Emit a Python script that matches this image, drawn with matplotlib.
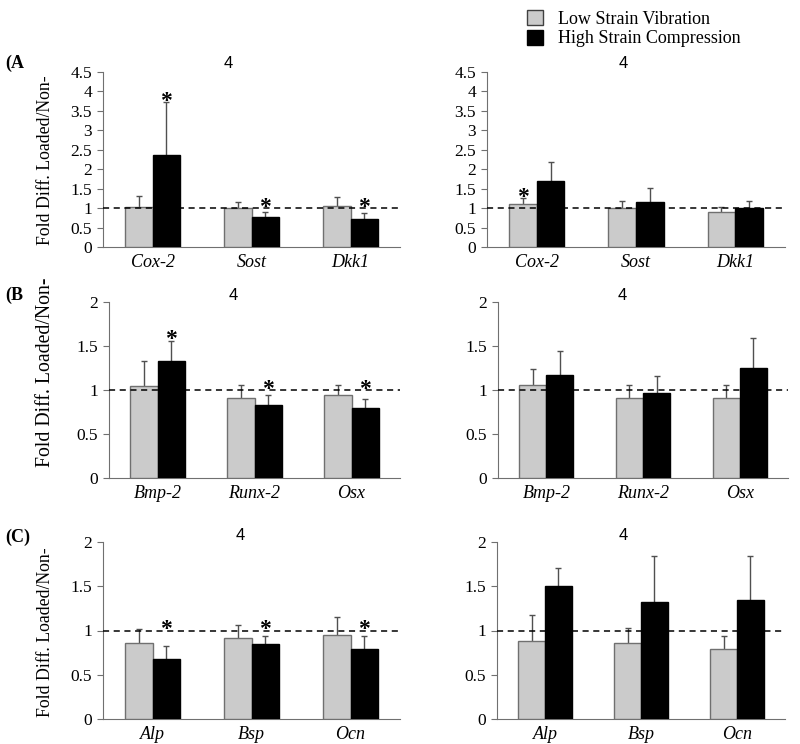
import numpy as np
import matplotlib
matplotlib.use("Agg")
import matplotlib.pyplot as plt
from matplotlib.patches import Patch

plt.rcParams['font.family'] = ['Liberation Serif', 'DejaVu Serif']

# genes per row
genes_a = ["Cox-2", "Sost", "Dkk1"]
genes_b = ["Bmp-2", "Runx-2", "Osx"]
genes_c = ["Alp", "Bsp", "Ocn"]

# Row A - left / right
low_a1 = [1.03, 1.01, 1.06]
low_a1_err = [0.27, 0.16, 0.22]
high_a1 = [2.37, 0.78, 0.72]
high_a1_err = [1.35, 0.12, 0.15]
low_a2 = [1.11, 1.01, 0.91]
low_a2_err = [0.15, 0.17, 0.13]
high_a2 = [1.70, 1.16, 1.00]
high_a2_err = [0.48, 0.36, 0.18]

# Row B
low_b1 = [1.05, 0.91, 0.94]
low_b1_err = [0.28, 0.15, 0.12]
high_b1 = [1.33, 0.83, 0.79]
high_b1_err = [0.23, 0.11, 0.11]
low_b2 = [1.06, 0.91, 0.91]
low_b2_err = [0.18, 0.15, 0.15]
high_b2 = [1.17, 0.97, 1.25]
high_b2_err = [0.27, 0.19, 0.34]

# Row C
low_c1 = [0.86, 0.91, 0.95]
low_c1_err = [0.16, 0.15, 0.20]
high_c1 = [0.68, 0.85, 0.79]
high_c1_err = [0.14, 0.09, 0.15]
low_c2 = [0.88, 0.86, 0.79]
low_c2_err = [0.29, 0.17, 0.15]
high_c2 = [1.50, 1.32, 1.34]
high_c2_err = [0.21, 0.52, 0.50]

# significance stars (low, high)
star_low_a1 = [0, 0, 0]; star_high_a1 = [1, 1, 1]
star_low_a2 = [1, 0, 0]; star_high_a2 = [0, 0, 0]
star_low_b1 = [0, 0, 0]; star_high_b1 = [1, 1, 1]
star_low_b2 = [0, 0, 0]; star_high_b2 = [0, 0, 0]
star_low_c1 = [0, 0, 0]; star_high_c1 = [1, 1, 1]
star_low_c2 = [0, 0, 0]; star_high_c2 = [0, 0, 0]

yticks_a = [0, 0.5, 1, 1.5, 2, 2.5, 3, 3.5, 4, 4.5]
yticks_bc = [0, 0.5, 1, 1.5, 2]

W, H = 800, 744
fig = plt.figure(figsize=(8, 7.44), dpi=100)


def px_axes(x0, y0, x1, y1):
    return fig.add_axes([x0 / W, 1 - y1 / H, (x1 - x0) / W, (y1 - y0) / H])


def panel(ax, genes, low, low_err, high, high_err, s_low, s_high, yticks, title_x, title_y):
    x = np.arange(len(genes))
    w = 0.28
    ax.bar(x - w / 2, low, w, color="#cbcbcb", edgecolor="#707070", linewidth=1, zorder=3)
    ax.bar(x + w / 2, high, w, color="black", edgecolor="black", linewidth=1, zorder=3)
    for xs, m, e in [(x - w / 2, low, low_err), (x + w / 2, high, high_err)]:
        _, caps, _ = ax.errorbar(xs, m, yerr=[np.zeros(len(m)), e], fmt="none",
                                 ecolor="#505050", elinewidth=1, capsize=2.5, zorder=2)
        caps[0].set_visible(False)
    for xs, m, e, s in [(x - w / 2, low, low_err, s_low), (x + w / 2, high, high_err, s_high)]:
        for xi, mi, ei, si in zip(xs, m, e, s):
            if si:
                ax.annotate("*", (xi, max(mi + ei, 1.0)), xytext=(0, -7), textcoords="offset points",
                            ha="center", va="bottom", fontsize=17, fontweight="bold", zorder=5)
    ax.axhline(1, color="black", linestyle=(0, (4, 3)), linewidth=1.1, zorder=4)
    ax.set_xlim(-0.5, len(genes) - 0.5)
    ax.set_ylim(yticks[0], yticks[-1])
    ax.set_yticks(yticks)
    ax.set_yticklabels([("%g" % t) for t in yticks], fontsize=12.5)
    ax.set_xticks(x)
    ax.set_xticklabels(genes, fontsize=13, style="italic")
    ax.tick_params(axis="x", length=0, pad=5)
    ax.tick_params(axis="y", length=4, color="#707070", pad=4)
    for sp in ["top", "right"]:
        ax.spines[sp].set_visible(False)
    for sp in ["left", "bottom"]:
        ax.spines[sp].set_color("#707070")
    fig.text(title_x / W, 1 - title_y / H, "4", ha="center", va="center",
             fontsize=12, family="Liberation Sans")


ax = px_axes(103, 72, 400, 247)
panel(ax, genes_a, low_a1, low_a1_err, high_a1, high_a1_err, star_low_a1, star_high_a1, yticks_a, 228, 64)
ax = px_axes(487, 72, 785, 247)
panel(ax, genes_a, low_a2, low_a2_err, high_a2, high_a2_err, star_low_a2, star_high_a2, yticks_a, 623, 64)

ax = px_axes(109, 302, 400, 478)
panel(ax, genes_b, low_b1, low_b1_err, high_b1, high_b1_err, star_low_b1, star_high_b1, yticks_bc, 233, 296)
ax = px_axes(498, 302, 788, 478)
panel(ax, genes_b, low_b2, low_b2_err, high_b2, high_b2_err, star_low_b2, star_high_b2, yticks_bc, 622, 296)

ax = px_axes(103, 542, 400, 719)
panel(ax, genes_c, low_c1, low_c1_err, high_c1, high_c1_err, star_low_c1, star_high_c1, yticks_bc, 240, 536)
ax = px_axes(497, 542, 785, 719)
panel(ax, genes_c, low_c2, low_c2_err, high_c2, high_c2_err, star_low_c2, star_high_c2, yticks_bc, 623, 536)

# y labels and panel letters
for yc, fs in [(160, 12.8), (372, 14.2), (632, 12.8)]:
    fig.text(46 / W, 1 - yc / H, "Fold Diff. Loaded/Non-", rotation=90,
             ha="center", va="center", fontsize=fs)
for lab, yc in [("(A", 63), ("(B", 295), ("(C)", 537)]:
    fig.text(5 / W, 1 - yc / H, lab, ha="left", va="center", fontsize=13, fontweight="bold")

handles = [Patch(facecolor="#cbcbcb", edgecolor="#404040"),
           Patch(facecolor="black", edgecolor="black")]
fig.legend(handles, ["Low Strain Vibration", "High Strain Compression"],
           loc="upper left", bbox_to_anchor=(520 / W, 1 - 3 / H), frameon=False,
           fontsize=13, handlelength=0.9, handleheight=0.9, handletextpad=0.8,
           labelspacing=0.1, borderaxespad=0)

fig.savefig("out.png", dpi=100)
